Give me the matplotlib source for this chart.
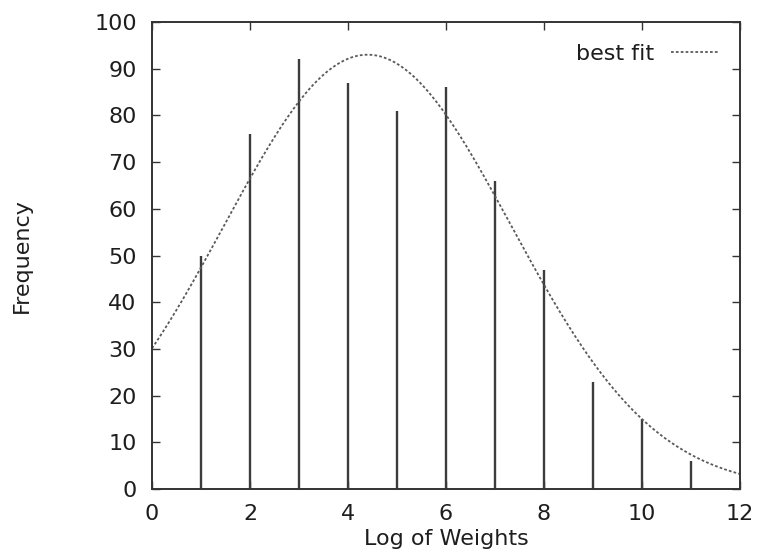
import numpy as np
import matplotlib as mpl
import matplotlib.pyplot as plt

mpl.rcdefaults()
mpl.rcParams['font.family'] = ['DejaVu Sans']
mpl.rcParams['font.size'] = 16

# impulse data
log_weights = [1, 2, 3, 4, 5, 6, 7, 8, 9, 10, 11]
frequency = [50, 76, 92, 87, 81, 86, 66, 47, 23, 15, 6]

# gaussian best fit parameters
fit_amp = 93.0
fit_mean = 4.4
fit_sigma = 2.93

fig = plt.figure(figsize=(7.58, 5.56), dpi=100)
ax = fig.add_axes([152 / 758, 1 - 489 / 556, 588 / 758, 467 / 556])

ax.vlines(log_weights, 0, frequency, color='#3c3c3c', linewidth=1.7)

xs = np.linspace(0, 12, 300)
fit = fit_amp * np.exp(-(xs - fit_mean) ** 2 / (2 * fit_sigma ** 2))
ax.plot(xs, fit, color='#5a5a5a', linewidth=1.3, linestyle=(0, (1.5, 1.2)), label='best fit')

ax.set_xlim(0, 12)
ax.set_ylim(0, 100)
ax.set_xticks(range(0, 13, 2))
ax.set_yticks(range(0, 101, 10))
ax.tick_params(direction='in', length=6, width=1, top=True, right=True, color='#333333',
               labelcolor='#1e1e1e')
ax.tick_params(axis='y', pad=11)
ax.tick_params(axis='x', pad=11)
for s in ax.spines.values():
    s.set_linewidth(1.4)
    s.set_color('#333333')

ax.set_xlabel('Log of Weights', va='center', color='#1e1e1e')
ax.xaxis.set_label_coords(0.5, -0.107)
ax.set_ylabel('Frequency', va='center', color='#1e1e1e')
ax.yaxis.set_label_coords(-0.222, 0.5)

leg = ax.legend(loc='upper right', frameon=False, markerfirst=False, handlelength=2.1,
                borderaxespad=0.6, handletextpad=0.75)
for t in leg.get_texts():
    t.set_color('#1e1e1e')

plt.savefig('out.png', dpi=100)
plt.close()
